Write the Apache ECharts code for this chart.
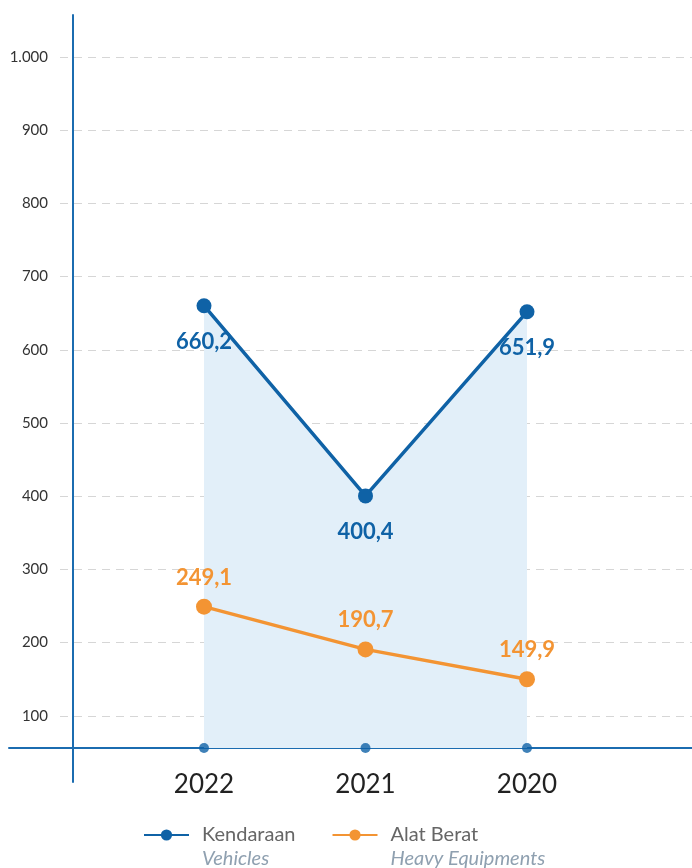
<!DOCTYPE html>
<html>
<head>
<meta charset="utf-8">
<script src="https://cdn.jsdelivr.net/npm/echarts@6/dist/echarts.min.js"></script>
<style>
  html, body { margin: 0; padding: 0; background: #ffffff; }
  #chart { width: 692px; height: 868px; }
</style>
</head>
<body>
<div id="chart"></div>
<script>
const years = ["2022", "2021", "2020"];
const vehicles = [660.2, 400.4, 651.9];
const heavyEquipments = [249.1, 190.7, 149.9];
const yTicks = [0, 100, 200, 300, 400, 500, 600, 700, 800, 900, 1000];
const seriesNames = ["Kendaraan", "Alat Berat"];
const seriesNamesEn = { "Kendaraan": "Vehicles", "Alat Berat": "Heavy Equipments" };

// value where the drawn baseline sits (axis line above the zero level)
const baseValue = 56;

const blue = "#0f62a6";
const axisBlue = "#1b6cb0";
const orange = "#f39433";
const fontFamily = "Lato, 'Noto Sans', sans-serif";

const chart = echarts.init(document.getElementById("chart"));

const fmt = v => v.toLocaleString("de-DE", { minimumFractionDigits: 1, maximumFractionDigits: 1 });

const option = {
  backgroundColor: "#ffffff",
  textStyle: { fontFamily },
  grid: [
    // 0: vertical axis line
    { left: 73, right: 0, top: 15, bottom: 86 },
    // 1: y scale labels + dashed split lines
    { left: 60, right: 0, top: 57, bottom: 79 },
    // 2: horizontal baseline
    { left: 9, right: 0, top: 57, bottom: 120 },
    // 3: data
    { left: 123.25, width: 484.5, top: 57, bottom: 120 }
  ],
  xAxis: [
    { gridIndex: 0, type: "value", show: false },
    { gridIndex: 1, type: "value", show: false },
    {
      gridIndex: 2, type: "value",
      axisLine: { show: true, lineStyle: { color: axisBlue, width: 2 } },
      axisTick: { show: false }, axisLabel: { show: false }, splitLine: { show: false }
    },
    {
      gridIndex: 3, type: "category", data: years, boundaryGap: true,
      axisLine: { show: false }, axisTick: { show: false },
      axisLabel: { margin: 24, fontSize: 26, color: "#222", fontFamily }
    }
  ],
  yAxis: [
    {
      gridIndex: 0, type: "value", min: 0, max: 1,
      axisLine: { show: true, lineStyle: { color: axisBlue, width: 2 } },
      axisTick: { show: false }, axisLabel: { show: false }, splitLine: { show: false }
    },
    {
      gridIndex: 1, type: "value", min: 0, max: 1000, interval: 100,
      axisLine: { show: false }, axisTick: { show: false },
      axisLabel: {
        margin: 12, fontSize: 15, color: "#333", fontFamily,
        formatter: v => (v === 0 ? "" : v.toLocaleString("de-DE"))
      },
      splitLine: {
        show: true,
        lineStyle: {
          type: [8, 6],
          width: 1,
          color: yTicks.map(v => (v === 0 ? "rgba(0,0,0,0)" : "#d6d6d6"))
        }
      }
    },
    { gridIndex: 2, type: "value", show: false },
    { gridIndex: 3, type: "value", min: baseValue, max: 1000, show: false }
  ],
  legend: {
    data: seriesNames,
    left: 138,
    top: 820,
    itemWidth: 45,
    itemHeight: 14,
    itemGap: 36,
    formatter: name => `{a|${name}}\n{b|${seriesNamesEn[name]}}`,
    textStyle: {
      padding: [24, 0, 0, 8],
      rich: {
        a: { fontSize: 20, color: "#666", lineHeight: 24, fontFamily },
        b: { fontSize: 20, color: "#8fa0b0", lineHeight: 24, fontStyle: "italic", fontFamily }
      }
    }
  },
  series: [
    {
      name: "Kendaraan",
      type: "line",
      xAxisIndex: 3, yAxisIndex: 3,
      data: vehicles,
      symbol: "circle",
      symbolSize: 15,
      z: 3,
      lineStyle: { color: blue, width: 3.5 },
      itemStyle: { color: blue },
      areaStyle: { color: "#e2eff9", opacity: 1, origin: "start" },
      label: {
        show: true, position: "bottom", distance: 18,
        fontSize: 22, fontWeight: "bold", color: blue, fontFamily,
        formatter: p => fmt(p.value)
      }
    },
    {
      name: "Alat Berat",
      type: "line",
      xAxisIndex: 3, yAxisIndex: 3,
      data: heavyEquipments,
      symbol: "circle",
      symbolSize: 16,
      z: 4,
      lineStyle: { color: orange, width: 3.5 },
      itemStyle: { color: orange },
      label: {
        show: true, position: "top", distance: 10,
        fontSize: 22, fontWeight: "bold", color: orange, fontFamily,
        formatter: p => fmt(p.value)
      }
    },
    {
      name: "baseline",
      type: "scatter",
      xAxisIndex: 3, yAxisIndex: 3,
      data: years.map(() => baseValue),
      symbolSize: 10,
      itemStyle: { color: blue },
      z: 5,
      silent: true
    }
  ]
};

chart.setOption(option);
window.addEventListener("resize", () => chart.resize());
</script>
</body>
</html>
